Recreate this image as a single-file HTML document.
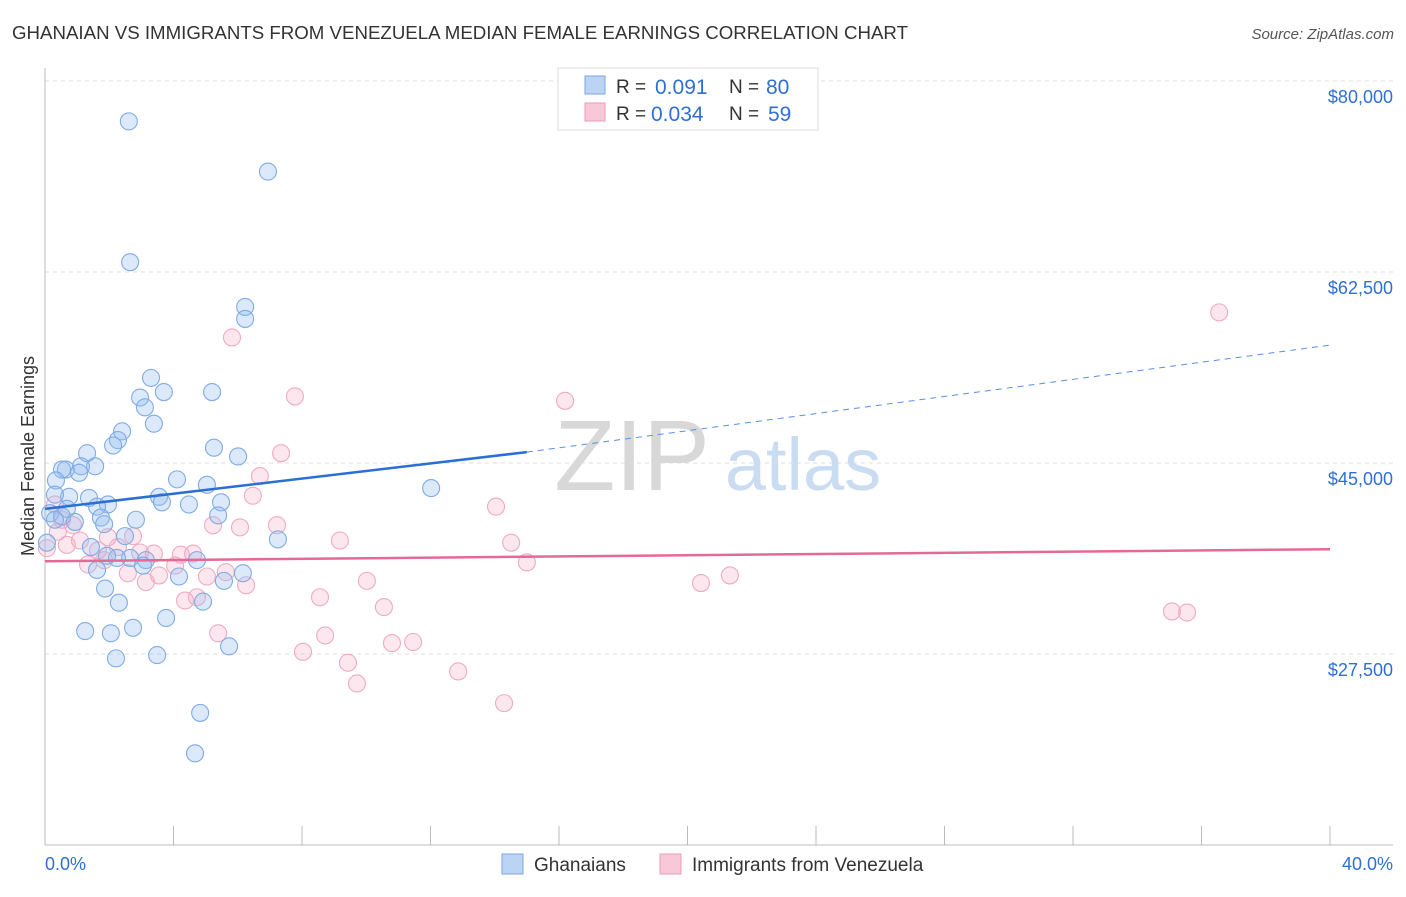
<!DOCTYPE html>
<html><head><meta charset="utf-8"><style>
body{margin:0;background:#fff;font-family:"Liberation Sans",sans-serif;}
svg text{font-family:"Liberation Sans",sans-serif;}
</style></head><body>
<svg id="chart" width="1406" height="892" xmlns="http://www.w3.org/2000/svg">
<text x="12" y="39" font-size="18" fill="#333" textLength="896" lengthAdjust="spacingAndGlyphs">GHANAIAN VS IMMIGRANTS FROM VENEZUELA MEDIAN FEMALE EARNINGS CORRELATION CHART</text>
<text x="1394" y="39" font-size="15" fill="#555" font-style="italic" text-anchor="end">Source: ZipAtlas.com</text>
<g>
<text x="632" y="490" font-size="100" fill="#d8d8d8" font-family="Liberation Serif" text-anchor="middle">ZIP</text>
<text x="803" y="490" font-size="74" fill="#c9dcf2" text-anchor="middle">atlas</text>
</g>
<g id="grid"></g>
<g id="axes"></g>
<g id="pts"></g>
<g id="trend"></g>
<text x="34" y="456" font-size="18" fill="#333" text-anchor="middle" transform="rotate(-90 34 456)">Median Female Earnings</text>
<g>
<rect x="558" y="68" width="260" height="62" fill="#fff" stroke="#ddd"/>
<rect x="585" y="76" width="20" height="18" fill="#bcd4f4" stroke="#7aa6e0"/>
<text x="616" y="93" font-size="19" fill="#333">R =</text>
<text x="655" y="94" font-size="21" fill="#2f6fd6">0.091</text>
<text x="729" y="93" font-size="19" fill="#333">N =</text>
<text x="766" y="94" font-size="21" fill="#2f6fd6">80</text>
<rect x="585" y="103" width="20" height="18" fill="#f8c8d8" stroke="#eb9ab5"/>
<text x="616" y="120" font-size="19" fill="#333">R =</text>
<text x="651" y="121" font-size="21" fill="#2f6fd6">0.034</text>
<text x="729" y="120" font-size="19" fill="#333">N =</text>
<text x="768" y="121" font-size="21" fill="#2f6fd6">59</text>
</g>
<g>
<rect x="502" y="854" width="21" height="20" fill="#bcd4f4" stroke="#7aa6e0"/>
<text x="534" y="871" font-size="19" fill="#333">Ghanaians</text>
<rect x="660" y="854" width="21" height="20" fill="#f8c8d8" stroke="#eb9ab5"/>
<text x="692" y="871" font-size="19" fill="#333">Immigrants from Venezuela</text>
</g>
<text x="45" y="870" font-size="18" fill="#2f6fd6">0.0%</text>
<text x="1393" y="870" font-size="18" fill="#2f6fd6" text-anchor="end">40.0%</text>
</svg>
<script>
const yTicks=[80000,62500,45000,27500];
const yTickLabels=["$80,000","$62,500","$45,000","$27,500"];
const blueX=[2.61,6.94,2.65,6.23,6.23,3.30,3.70,2.96,5.20,3.11,3.39,2.40,2.27,2.12,5.26,6.01,1.31,1.56,1.12,0.65,0.53,1.06,0.34,4.11,5.04,12.02,0.75,1.37,3.55,3.64,5.48,4.48,0.31,1.96,1.62,0.68,0.16,0.53,1.74,5.39,2.83,0.93,1.84,0.31,7.25,2.49,1.43,0.06,2.65,3.14,4.73,2.24,1.93,3.05,6.16,1.62,4.17,5.57,1.87,4.92,2.30,3.77,2.74,1.25,2.05,5.73,3.49,2.21,4.83,4.67];
const blueY=[76.3,71.7,63.4,59.3,58.2,52.8,51.5,51.0,51.5,50.1,48.6,47.9,47.1,46.6,46.4,45.6,45.9,44.7,44.7,44.4,44.4,44.1,43.4,43.5,43.0,42.7,41.9,41.8,41.9,41.4,41.4,41.2,42.1,41.2,41.0,40.8,40.4,40.1,40.0,40.2,39.8,39.6,39.4,39.8,38.0,38.3,37.3,37.7,36.3,36.1,36.1,36.3,36.5,35.6,34.9,35.2,34.6,34.2,33.5,32.3,32.2,30.8,29.9,29.6,29.4,28.2,27.4,27.1,22.1,18.4];
const pinkX=[36.55,5.82,7.78,16.19,7.35,6.69,6.47,14.04,5.23,6.07,7.22,0.31,0.53,0.87,0.40,2.74,1.96,0.68,1.09,9.18,14.51,1.65,2.27,2.96,3.39,4.23,4.61,1.84,1.34,4.05,15.0,2.58,3.55,5.04,5.63,10.02,6.26,3.14,20.42,21.32,4.73,8.56,4.36,10.55,35.08,35.55,5.39,8.72,10.80,11.46,8.03,9.43,12.86,9.71,14.29,0.06];
const pinkY=[58.8,56.5,51.1,50.7,45.9,43.8,42.0,41.0,39.3,39.1,39.3,41.2,39.8,39.3,38.7,38.3,38.2,37.5,37.9,37.9,37.7,37.0,37.3,36.8,36.7,36.6,36.7,36.1,35.7,35.6,35.9,34.9,34.7,34.6,35.0,34.2,33.8,34.1,34.0,34.7,32.7,32.7,32.4,31.8,31.4,31.3,29.4,29.2,28.5,28.6,27.7,26.7,25.9,24.8,23.0,37.2];
const blueTrend=[[0,40.8],[15,46.0],[40,55.8]];
const pinkTrend=[[0,36.0],[40,37.1]];
const NS="http://www.w3.org/2000/svg";
function xs(p){return 45+p/40*1285;}
function ys(k){return 81+(80-k)/17.5*191;}
function mk(tag,attrs,parent){const e=document.createElementNS(NS,tag);for(const k in attrs)e.setAttribute(k,attrs[k]);document.getElementById(parent).appendChild(e);return e;}
yTicks.forEach((v,i)=>{
  const y=ys(v/1000);
  const l=mk('line',{x1:45,x2:1393,y1:y,y2:y,stroke:'#ddd','stroke-dasharray':'4 4'},'grid');
  
  
  const t=mk('text',{x:1393,y:y+22,'font-size':18,fill:'#2f6fd6','text-anchor':'end'},'grid');
  t.textContent=yTickLabels[i];
  
  
});
const ax=mk('line',{x1:45,x2:1393,y1:845,y2:845,stroke:'#bbb'},'axes');


const ay=mk('line',{x1:45,x2:45,y1:68,y2:845,stroke:'#bbb'},'axes');


for(let i=0;i<=10;i++){
  const x=xs(i*4);
  const t=mk('line',{x1:x,x2:x,y1:826,y2:845,stroke:'#bbb'},'axes');
  
  
}
pinkX.forEach((p,i)=>{
  const c=mk('circle',{cx:xs(p),cy:ys(pinkY[i]),r:8.5,fill:'rgba(245,170,196,0.28)',stroke:'#f0aac2','stroke-width':1.1},'pts');
  
  
});
blueX.forEach((p,i)=>{
  const c=mk('circle',{cx:xs(p),cy:ys(blueY[i]),r:8.5,fill:'rgba(150,190,240,0.34)',stroke:'#80abe4','stroke-width':1.1},'pts');
  
  
});
const b1=mk('line',{x1:xs(blueTrend[0][0]),y1:ys(blueTrend[0][1]),x2:xs(blueTrend[1][0]),y2:ys(blueTrend[1][1]),stroke:'#2a6fd6','stroke-width':2.5},'trend');


const b2=mk('line',{x1:xs(blueTrend[1][0]),y1:ys(blueTrend[1][1]),x2:xs(blueTrend[2][0]),y2:ys(blueTrend[2][1]),stroke:'#5a8fe0','stroke-width':1,'stroke-dasharray':'6 5'},'trend');


const p1=mk('line',{x1:xs(pinkTrend[0][0]),y1:ys(pinkTrend[0][1]),x2:xs(pinkTrend[1][0]),y2:ys(pinkTrend[1][1]),stroke:'#e36a96','stroke-width':2.5},'trend');


</script>
</body></html>
